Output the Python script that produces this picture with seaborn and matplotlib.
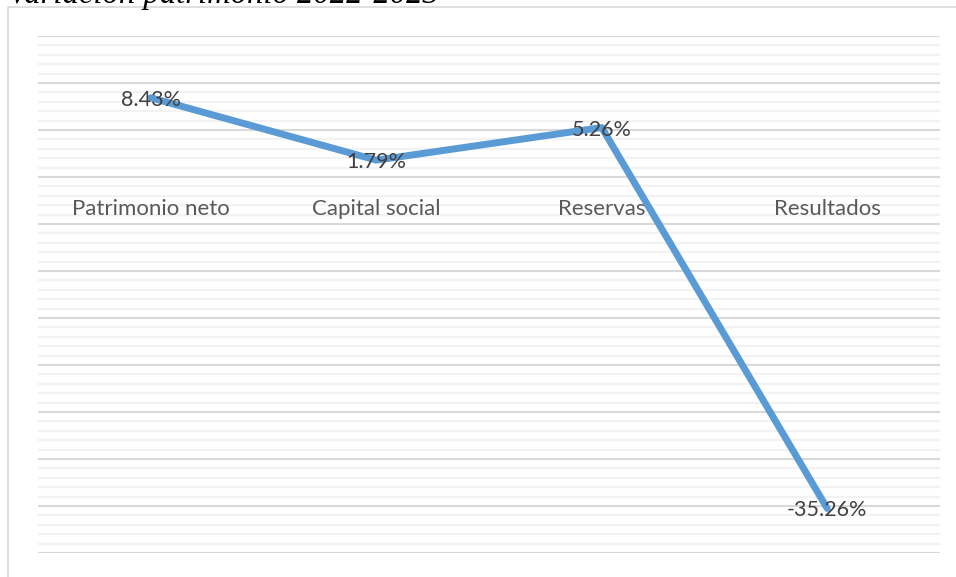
import pandas as pd
import matplotlib.pyplot as plt
import matplotlib.patches as patches
from matplotlib.ticker import MultipleLocator
import seaborn as sns

# Data
categorias = ["Patrimonio neto", "Capital social", "Reservas", "Resultados"]
variacion = [8.43, 1.79, 5.26, -35.26]
etiquetas = ["8.43%", "1.79%", "5.26%", "-35.26%"]
titulo = "Variación patrimonio 2022-2023"

df = pd.DataFrame({"categoria": categorias, "variacion": variacion})

sns.set_style("white")
plt.rcParams["font.family"] = ["Lato", "DejaVu Sans"]

fig = plt.figure(figsize=(9.56, 5.77), dpi=100)
ax = fig.add_axes([38 / 956, 24 / 577, 902 / 956, 517 / 577])

# chart area border (cut by the image edges)
fig.patches.append(patches.Rectangle((8 / 956, -0.1), 1.2, 1 - 7 / 577 + 0.1,
                                     transform=fig.transFigure, fill=False,
                                     edgecolor="#D9D9D9", linewidth=1.2))

# title, partly cut off at the top as in the original
fig.text(8 / 956, 1 - 3 / 577, titulo, family="Liberation Serif", style="italic",
         fontsize=23.5, color="black", va="baseline", ha="left")

sns.lineplot(data=df, x="categoria", y="variacion", sort=False, ax=ax,
             color="#5B9BD5", linewidth=5, zorder=3)

ax.set_xlim(-0.5, 3.5)
ax.set_ylim(-40, 15)
ax.yaxis.set_major_locator(MultipleLocator(5))
ax.yaxis.set_minor_locator(MultipleLocator(1))
ax.grid(which="major", axis="y", color="#D9D9D9", linewidth=1.5, zorder=0)
ax.grid(which="minor", axis="y", color="#F2F2F2", linewidth=1.5, zorder=0)
ax.set_axisbelow(True)

for s in ["left", "right", "top", "bottom"]:
    ax.spines[s].set_visible(False)

ax.tick_params(axis="x", length=0, labelbottom=False)
ax.tick_params(axis="y", which="both", length=0, labelleft=False)
ax.set_xlabel("")
ax.set_ylabel("")

# category labels sit just below the zero line
for i, c in enumerate(categorias):
    ax.annotate(c, (i, 0), xytext=(0, -32), textcoords="offset pixels",
                ha="center", va="center", fontsize=16, color="#595959", zorder=4)

for i, (v, t) in enumerate(zip(variacion, etiquetas)):
    ax.annotate(t, (i, v), xytext=(0, -2), textcoords="offset pixels",
                ha="center", va="center", fontsize=15.5, color="#404040", zorder=5)

fig.savefig("out.png", dpi=100)
